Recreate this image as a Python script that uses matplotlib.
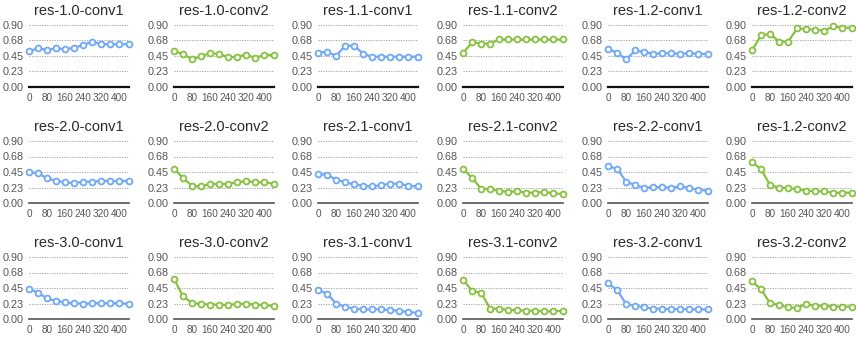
import numpy as np
from matplotlib import pyplot as plt

steps = [0, 40, 80, 120, 160, 200, 240, 280, 320, 360, 400, 440]

titles = [
    ['res-1.0-conv1', 'res-1.0-conv2', 'res-1.1-conv1', 'res-1.1-conv2', 'res-1.2-conv1', 'res-1.2-conv2'],
    ['res-2.0-conv1', 'res-2.0-conv2', 'res-2.1-conv1', 'res-2.1-conv2', 'res-2.2-conv1', 'res-1.2-conv2'],
    ['res-3.0-conv1', 'res-3.0-conv2', 'res-3.1-conv1', 'res-3.1-conv2', 'res-3.2-conv1', 'res-3.2-conv2'],
]

# row 1
r10c1 = [0.52, 0.56, 0.54, 0.56, 0.55, 0.57, 0.61, 0.66, 0.62, 0.62, 0.62, 0.62]
r10c2 = [0.52, 0.48, 0.40, 0.45, 0.49, 0.48, 0.43, 0.44, 0.47, 0.42, 0.47, 0.46]
r11c1 = [0.50, 0.51, 0.45, 0.60, 0.60, 0.48, 0.44, 0.44, 0.44, 0.44, 0.44, 0.44]
r11c2 = [0.49, 0.65, 0.63, 0.63, 0.69, 0.69, 0.69, 0.69, 0.69, 0.69, 0.69, 0.69]
r12c1 = [0.55, 0.50, 0.40, 0.53, 0.51, 0.48, 0.49, 0.49, 0.48, 0.49, 0.48, 0.48]
r12c2 = [0.53, 0.75, 0.77, 0.66, 0.66, 0.85, 0.84, 0.83, 0.82, 0.88, 0.86, 0.86]
# row 2
r20c1 = [0.45, 0.43, 0.36, 0.32, 0.30, 0.29, 0.31, 0.31, 0.32, 0.32, 0.32, 0.32]
r20c2 = [0.50, 0.36, 0.25, 0.24, 0.28, 0.27, 0.28, 0.30, 0.32, 0.30, 0.30, 0.28]
r21c1 = [0.42, 0.41, 0.34, 0.30, 0.27, 0.25, 0.24, 0.26, 0.28, 0.28, 0.25, 0.24]
r21c2 = [0.50, 0.36, 0.21, 0.20, 0.18, 0.16, 0.17, 0.15, 0.15, 0.16, 0.14, 0.13]
r22c1 = [0.53, 0.50, 0.31, 0.26, 0.22, 0.23, 0.23, 0.22, 0.24, 0.22, 0.19, 0.18]
r22c2 = [0.60, 0.49, 0.26, 0.22, 0.22, 0.20, 0.18, 0.17, 0.17, 0.15, 0.15, 0.15]
# row 3
r30c1 = [0.44, 0.38, 0.30, 0.26, 0.24, 0.23, 0.22, 0.23, 0.23, 0.23, 0.23, 0.22]
r30c2 = [0.58, 0.33, 0.23, 0.22, 0.21, 0.21, 0.20, 0.22, 0.22, 0.21, 0.20, 0.19]
r31c1 = [0.42, 0.37, 0.22, 0.18, 0.15, 0.14, 0.14, 0.14, 0.13, 0.12, 0.10, 0.09]
r31c2 = [0.57, 0.41, 0.38, 0.15, 0.15, 0.13, 0.13, 0.12, 0.12, 0.11, 0.11, 0.12]
r32c1 = [0.52, 0.42, 0.22, 0.19, 0.17, 0.15, 0.15, 0.14, 0.15, 0.14, 0.14, 0.14]
r32c2 = [0.55, 0.43, 0.23, 0.20, 0.17, 0.16, 0.22, 0.19, 0.19, 0.18, 0.18, 0.18]

series = [
    [r10c1, r10c2, r11c1, r11c2, r12c1, r12c2],
    [r20c1, r20c2, r21c1, r21c2, r22c1, r22c2],
    [r30c1, r30c2, r31c1, r31c2, r32c1, r32c2],
]

yticks = [0.0, 0.225, 0.45, 0.675, 0.9]
ylabels = ['0.00', '0.23', '0.45', '0.68', '0.90']
xticks = [0, 80, 160, 240, 320, 400]

blue = '#6fa8f7'
green = '#86c23e'

W, H = 856, 337
fig = plt.figure(figsize=(W / 100, H / 100), dpi=100)
plt.rcParams['font.family'] = ['Liberation Sans', 'DejaVu Sans']

lefts = [29, 174, 318, 463, 608, 752]
tops = [25, 141, 257]
aw, ah = 100, 62

for r in range(3):
    for c in range(6):
        ax = fig.add_axes([lefts[c] / W, 1 - (tops[r] + ah) / H, aw / W, ah / H])
        col = blue if c % 2 == 0 else green
        ax.plot(steps, series[r][c], color=col, lw=1.6, marker='o', ms=4.2,
                mfc='white', mec=col, mew=1.3, clip_on=False, zorder=3)
        ax.set_xlim(0, 442)
        ax.set_ylim(0, 0.9)
        for s in ['top', 'right', 'left']:
            ax.spines[s].set_visible(False)
        ax.spines['bottom'].set_color('#111111' if r == 0 else '#555555')
        ax.spines['bottom'].set_linewidth(1.6 if r == 0 else 1.2)
        ax.set_yticks(yticks)
        ax.set_yticklabels(ylabels)
        ax.set_xticks(xticks)
        ax.tick_params(length=0, colors='#555555')
        ax.tick_params(axis='y', labelsize=7.8, pad=4)
        ax.tick_params(axis='x', labelsize=7.2, pad=4.5)
        for yv in yticks[1:]:
            ax.axhline(yv, color='#999999', lw=0.6, ls=(0, (1.5, 1.5)), zorder=1)
        ax.set_title(titles[r][c], fontsize=10.5, color='#2a2a2a', pad=7)

plt.savefig('out.png', dpi=100)
